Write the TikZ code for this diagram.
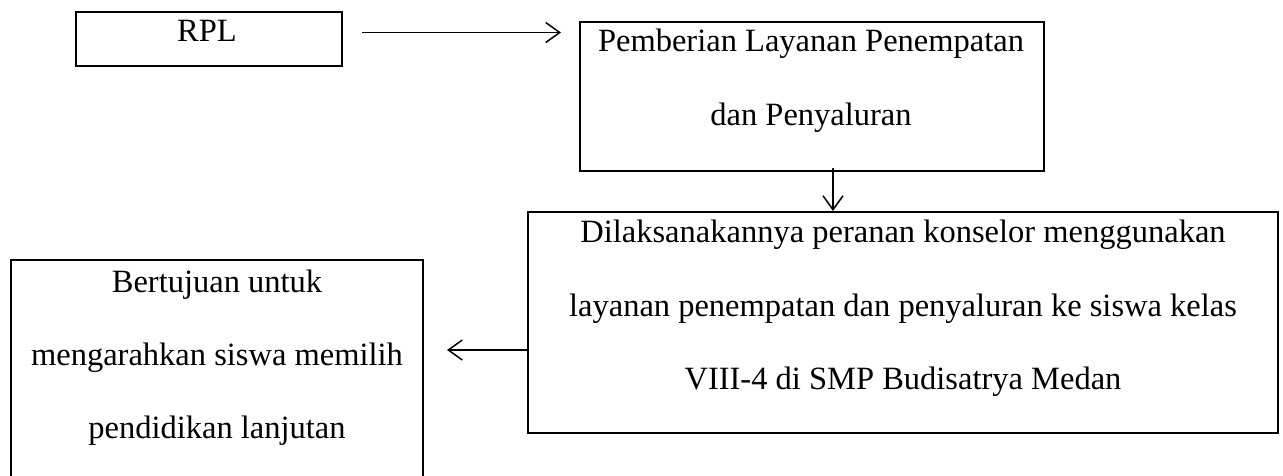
\documentclass[tikz,border=0pt]{standalone}
\usepackage{fontspec}
\setmainfont{Liberation Serif}
\usetikzlibrary{arrows.meta,calc}
\tikzset{
  box/.style={draw=black, line width=2pt, rectangle, inner sep=0pt},
  lbl/.style={anchor=base, inner sep=0pt, font=\fontsize{32.5}{39}\selectfont},
  arr/.style={draw=black, line width=1.5pt, -{Straight Barb[length=14pt,width=20pt,line width=1.5pt]}}
}
\begin{document}
\begin{tikzpicture}[x=1pt,y=-1pt]
\useasboundingbox (0,0) rectangle (1283,476);
\clip (0,0) rectangle (1283,476);
% boxes
\node[box, minimum width=266.5pt, minimum height=54pt] (rpl) at (208.75,39) {};
\node[box, minimum width=464pt, minimum height=149pt] (pem) at (812,96.5) {};
\node[box, minimum width=750pt, minimum height=221pt] (dil) at (903,322.5) {};
\node[box, minimum width=412pt, minimum height=250pt] (tuj) at (217,385) {};
% texts
\node[lbl] (t1) at (207,42) {RPL};
\node[lbl] (t2) at (811,52) {Pemberian Layanan Penempatan};
\node[lbl] (t3) at (811,126) {dan Penyaluran};
\node[lbl] (t4) at (903,242) {Dilaksanakannya peranan konselor menggunakan};
\node[lbl] (t5) at (903,316) {layanan penempatan dan penyaluran ke siswa kelas};
\node[lbl] (t6) at (903,389) {VIII-4 di SMP Budisatrya Medan};
\node[lbl] (t7) at (217,292) {Bertujuan untuk};
\node[lbl] (t8) at (217,365) {mengarahkan siswa memilih};
\node[lbl] (t9) at (217,438) {pendidikan lanjutan};
% connectors
\draw[arr] ($(rpl.east)+(19,-6.5)$) -- ($(rpl.east -| pem.west)+(-18,-6.5)$);
\draw[arr] ($(pem.south)+(21,-4)$) coordinate (d1) -- (d1 |- dil.north);
\draw[arr] ($(dil.west)+(0,27.5)$) -- ($(dil.west)+(-80,27.5)$);
\end{tikzpicture}
\end{document}
